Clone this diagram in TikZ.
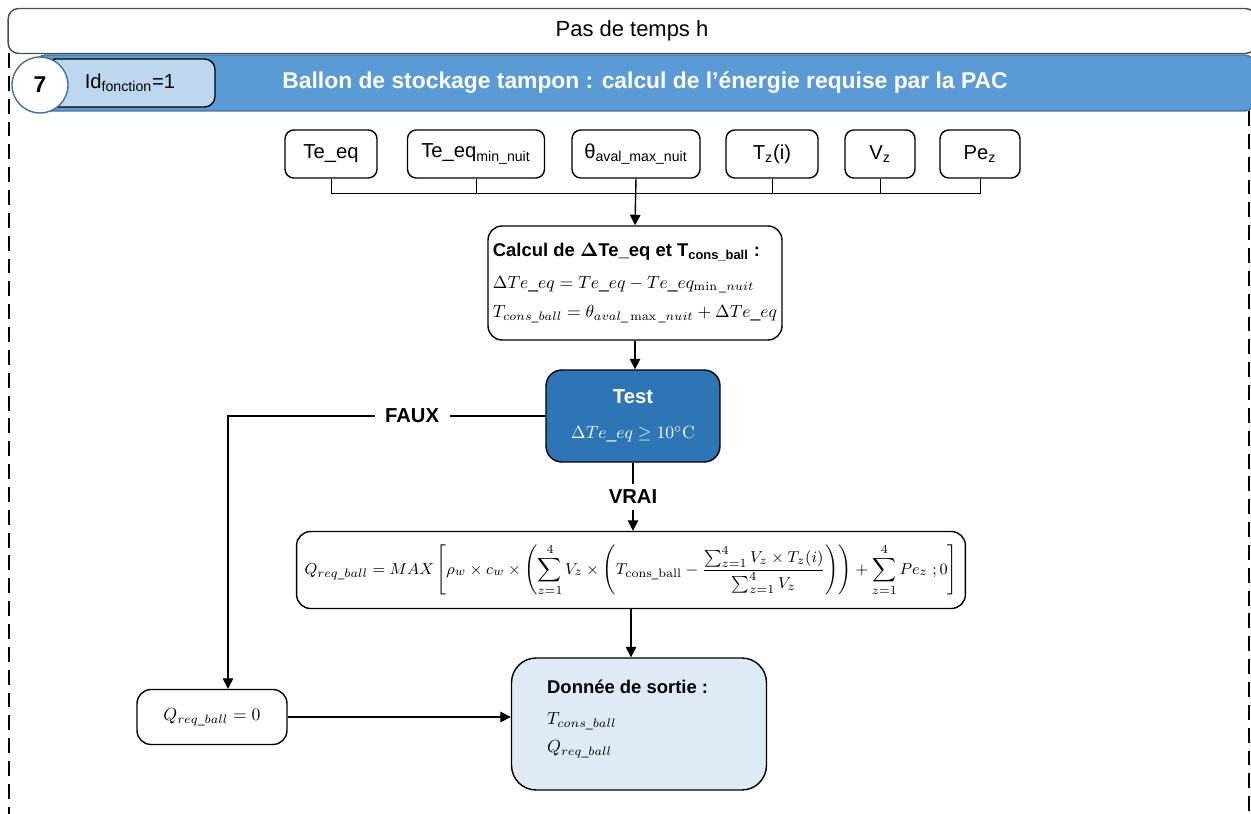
\documentclass[tikz,border=0pt]{standalone}
\usepackage{amsmath,amssymb}
\usepackage[no-math]{fontspec}
\setmainfont{Liberation Sans}
\usetikzlibrary{arrows.meta}
\definecolor{bleuTitre}{HTML}{5B9BD5}
\definecolor{bleuBord}{HTML}{41719C}
\definecolor{bleuClair}{HTML}{BDD7EE}
\definecolor{bleuTest}{HTML}{2E75B6}
\definecolor{bleuSortie}{HTML}{DEEBF7}

\begin{document}
\begin{tikzpicture}[x=0.02cm, y=-0.02cm, font=\fontsize{11.5}{14}\selectfont,
    boite/.style={draw, thick, rounded corners=8pt, fill=white, align=center, inner sep=2pt},
    entree/.style={boite, rounded corners=5pt, minimum height=0.96cm},
    fleche/.style={-{Triangle[length=6pt,width=6pt]}, thick},
    bus/.style={thin},
    lab/.style={fill=white, font=\fontsize{11.5}{14}\selectfont\bfseries, inner xsep=6pt},
    maths/.style={font=\fontsize{10}{12}\selectfont},
    cadre/.style={line width=1.2pt, dash pattern=on 8.5pt off 4.5pt}]
  \useasboundingbox (0,0) rectangle (1251,814);

  \node[draw=black!70, thick, rounded corners=6pt, minimum width=24.96cm, minimum height=0.9cm,
    font=\fontsize{12.5}{15}\selectfont] (pas) at (632,31) {Pas de temps h};
  \draw[cadre] (9,53) -- (9,814);
  \draw[cadre] (1249,111) -- (1249,814);

  \node[draw=bleuBord, fill=bleuTitre, thick, rounded corners=6pt, minimum width=24.4cm, minimum height=1.12cm,
    text=white, font=\fontsize{13}{15}\selectfont\bfseries] (titre) at (645,83) {Ballon de stockage tampon : calcul de l’énergie requise par la PAC};
  \node[boite, fill=bleuClair, rounded corners=6pt, minimum width=3.4cm, minimum height=0.96cm] (idf) at (130,83) {Id\textsubscript{fonction}=1};
  \node[circle, draw=bleuBord, thick, fill=white, minimum size=1.12cm, font=\fontsize{13}{15}\selectfont\bfseries] (num) at (40,85) {7};

  \node[entree, minimum width=1.84cm] (te) at (331,154) {Te\_eq};
  \node[entree, minimum width=2.74cm] (temin) at (476,154) {Te\_eq\textsubscript{min\_nuit}};
  \node[entree, minimum width=2.56cm] (theta) at (636,154) {θ\textsubscript{aval\_max\_nuit}};
  \node[entree, minimum width=1.84cm] (tz) at (772,154) {T\textsubscript{z}(i)};
  \node[entree, minimum width=1.4cm] (vz) at (880,154) {V\textsubscript{z}};
  \node[entree, minimum width=1.6cm] (pez) at (980,154) {Pe\textsubscript{z}};

  \coordinate (busy) at (0,193);
  \draw[bus] (te.south) -- (te.south |- busy) -- (pez.south |- busy) -- (pez.south);
  \foreach \n in {temin,tz,vz}
    \draw[bus] (\n.south) -- (\n.south |- busy);

  \node[boite, maths, minimum width=5.88cm, minimum height=2.28cm, align=left] (calc) at (635,283)
    {{\fontsize{10.5}{12}\selectfont\bfseries Calcul de $\boldsymbol{\Delta}$Te\_eq et T\textsubscript{cons\_ball} :}\\[6pt]
     $\Delta Te\_eq = Te\_eq - Te\_eq_{\min\_nuit}$\\[5pt]
     $T_{cons\_ball} = \theta_{aval\_\max\_nuit} + \Delta Te\_eq$};
  \draw[fleche] (theta.south) -- (calc.north);

  \node[boite, fill=bleuTest, text=white, minimum width=3.48cm, minimum height=1.84cm, rounded corners=9pt] (test) at (633,416)
    {\textbf{Test}\\[6pt] {\fontsize{10}{12}\selectfont$\Delta Te\_eq \geq 10^{\circ}\mathrm{C}$}};
  \draw[fleche] (calc.south) -- (calc.south |- test.north);

  \node[boite, minimum width=13.38cm, minimum height=1.54cm, font=\fontsize{9.5}{11}\selectfont] (formule) at (631,570)
    {$\displaystyle Q_{req\_ball} = MAX\left[\rho_w \times c_w \times \left(\sum_{z=1}^{4} V_z \times \left(T_{\mathrm{cons\_ball}} - \frac{\sum_{z=1}^{4} V_z \times T_z(i)}{\sum_{z=1}^{4} V_z}\right)\right) + \sum_{z=1}^{4} Pe_z \;;0\right]$};
  \draw[fleche] (test.south) -- node[lab] {VRAI} (test.south |- formule.north);

  \node[boite, maths, minimum width=3cm, minimum height=1.1cm] (qnul) at (212,717) {$Q_{req\_ball} = 0$};
  \coordinate (coin) at (228,416);
  \draw[fleche] (test.west) -- node[lab, pos=0.42] {FAUX} (coin) -- (coin |- qnul.north);

  \node[boite, fill=bleuSortie, minimum width=5.1cm, minimum height=2.64cm, rounded corners=14pt] (sortie) at (639,724) {};
  \node[maths, anchor=north west, align=left, inner sep=0pt] (sortietxt) at ([xshift=0.72cm,yshift=-0.44cm]sortie.north west)
    {{\fontsize{10.5}{12}\selectfont\bfseries Donnée de sortie :}\\[6pt] $T_{cons\_ball}$\\[4pt] $Q_{req\_ball}$};
  \draw[fleche] (formule.south) -- (formule.south |- sortie.north);
  \draw[fleche] (qnul.east) -- (qnul.east -| sortie.west);
\end{tikzpicture}
\end{document}
